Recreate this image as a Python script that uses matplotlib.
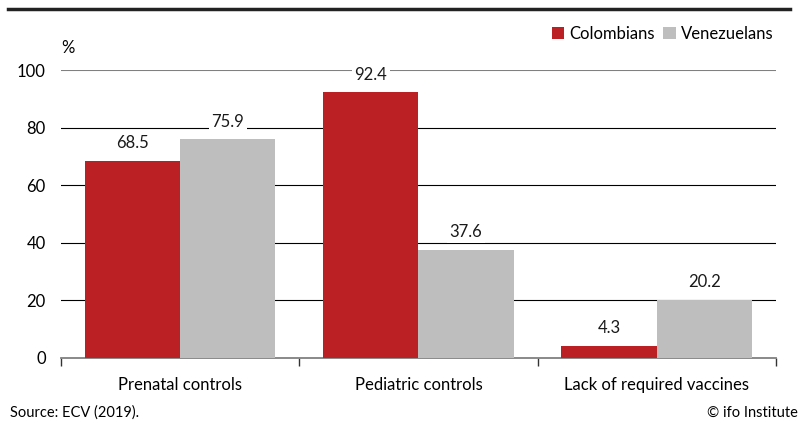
import matplotlib
matplotlib.use('Agg')
from matplotlib import pyplot as plt
from matplotlib.lines import Line2D
import numpy as np

plt.rcParams['font.family'] = ['Lato', 'DejaVu Sans']

# Data
categories = ['Prenatal controls', 'Pediatric controls', 'Lack of required vaccines']
colombians = [68.5, 92.4, 4.3]
venezuelans = [75.9, 37.6, 20.2]
series_names = ['Colombians', 'Venezuelans']

red = '#BA2024'
grey = '#BEBEBE'

fig = plt.figure(figsize=(7.99, 4.23), dpi=100)
ax = fig.add_axes([0.0763, 0.1537, 0.8947, 0.6808])

x = np.arange(len(categories))
w = 0.4
b1 = ax.bar(x - w / 2, colombians, w, color=red, label=series_names[0], zorder=3)
b2 = ax.bar(x + w / 2, venezuelans, w, color=grey, label=series_names[1], zorder=3)

# value labels on white boxes so the gridlines break behind them
for bars in (b1, b2):
    for r in bars:
        ax.annotate(f'{r.get_height():.1f}',
                    (r.get_x() + r.get_width() / 2, r.get_height()),
                    xytext=(0, 12.5), textcoords='offset points',
                    ha='center', va='center', fontsize=12, color='#1a1a1a',
                    bbox=dict(boxstyle='square,pad=0.15', fc='white', ec='none'),
                    zorder=4)

ax.set_xlim(-0.5, len(categories) - 0.5)
ax.set_ylim(0, 100)
ax.set_yticks(range(0, 101, 20))
for v in range(20, 100, 20):
    ax.axhline(v, color='black', lw=0.8, zorder=1)
ax.axhline(100, color='#808080', lw=1.5, zorder=1)

for s in ['top', 'right', 'left']:
    ax.spines[s].set_visible(False)
ax.spines['bottom'].set_color('#808080')
ax.spines['bottom'].set_linewidth(1.3)

ax.tick_params(axis='y', length=0, labelsize=12, pad=11)
ax.set_xticks(x)
ax.set_xticklabels(categories)
ax.tick_params(axis='x', length=0, labelsize=12, pad=14)
# category boundary ticks
ax.set_xticks(np.arange(-0.5, len(categories), 1), minor=True)
ax.tick_params(axis='x', which='minor', length=6, width=1, color='#333333')

ax.text(0.0, 1.05, '%', transform=ax.transAxes, fontsize=12, ha='left', va='bottom')

fig.legend(loc='upper right', bbox_to_anchor=(0.976, 0.955), ncol=2, frameon=False,
           handlelength=0.75, handleheight=0.75, handletextpad=0.3,
           columnspacing=0.5, fontsize=12, borderaxespad=0)

fig.add_artist(Line2D([0.01, 0.989], [1 - 9.5 / 423] * 2, color='#222222', lw=2.5,
                      transform=fig.transFigure))

fig.text(0.012, 0.008, 'Source: ECV (2019).', fontsize=10.5, ha='left', va='bottom')
fig.text(0.998, 0.008, '© ifo Institute', fontsize=10.5, ha='right', va='bottom')

fig.savefig('out.png', dpi=100)
